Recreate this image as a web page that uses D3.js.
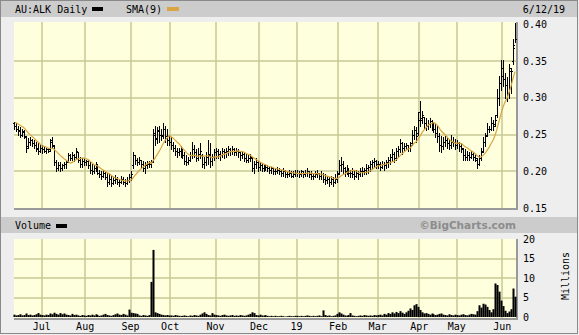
<!DOCTYPE html>
<html><head><meta charset="utf-8">
<script src="https://cdn.jsdelivr.net/npm/d3@7"></script>
<style>
body{margin:0;background:#fff}
svg text{font-family:"DejaVu Sans Mono",monospace;font-size:10px;fill:#000}
</style>
</head><body>
<svg id="chart" width="579" height="335"></svg>
<script>
// month labels and the trading-day index each month starts at
var monthLabels = ["Jul","Aug","Sep","Oct","Nov","Dec","19","Feb","Mar","Apr","May","Jun"];
var monthStart = [14,36,59,79,102,124,143,164,184,205,224,247];
var priceTicks = [0.15,0.20,0.25,0.30,0.35,0.40];
var volTicks = [0,5,10,15,20];

// daily OHLC, AU:ALK, 12 Jun 2018 - 12 Jun 2019
var openP = [.265,.262,.258,.256,.250,.254,.246,.234,.240,.243,
.238,.236,.232,.228,.232,.230,.228,.230,.230,.242,
.234,.212,.205,.208,.204,.208,.210,.214,.222,.218,
.222,.220,.226,.216,.210,.214,.212,.214,.208,.202,
.200,.205,.208,.198,.196,.194,.198,.192,.186,.190,
.184,.188,.190,.186,.186,.190,.186,.184,.188,.192,
.208,.222,.215,.212,.216,.210,.204,.208,.210,.210,
.214,.252,.244,.256,.250,.250,.258,.248,.242,.240,
.236,.232,.228,.226,.228,.224,.222,.214,.212,.216,
.222,.230,.226,.218,.224,.222,.210,.212,.220,.224,
.214,.220,.226,.228,.224,.222,.228,.226,.228,.230,
.228,.230,.226,.228,.226,.222,.224,.218,.216,.218,
.218,.205,.210,.212,.206,.208,.204,.206,.206,.204,
.202,.204,.200,.200,.202,.200,.198,.200,.196,.196,
.198,.194,.196,.198,.198,.196,.200,.196,.198,.200,
.196,.194,.194,.196,.198,.194,.196,.190,.188,.190,
.186,.190,.186,.190,.198,.208,.210,.204,.200,.202,
.198,.198,.196,.194,.198,.196,.200,.200,.202,.204,
.206,.210,.212,.214,.210,.210,.206,.210,.208,.212,
.216,.220,.224,.218,.228,.230,.238,.232,.234,.236,
.232,.238,.250,.256,.252,.280,.270,.274,.266,.262,
.264,.268,.262,.258,.252,.248,.236,.234,.240,.242,
.238,.236,.240,.240,.236,.238,.234,.230,.222,.220,
.222,.220,.224,.220,.216,.210,.218,.228,.240,.250,
.258,.258,.266,.264,.276,.300,.320,.340,.326,.318,
.306,.340,.350,.372];
var highP = [.267,.265,.262,.260,.258,.256,.248,.245,.246,.244,
.243,.240,.238,.236,.236,.234,.232,.232,.244,.246,
.236,.215,.212,.212,.210,.212,.215,.225,.224,.226,
.224,.232,.226,.220,.218,.218,.216,.216,.212,.210,
.208,.212,.210,.202,.200,.202,.200,.198,.196,.194,
.192,.195,.192,.190,.194,.192,.190,.192,.196,.200,
.226,.222,.218,.220,.216,.214,.212,.214,.214,.215,
.258,.262,.260,.262,.258,.266,.262,.258,.250,.246,
.240,.236,.232,.232,.234,.230,.226,.222,.220,.226,
.240,.236,.230,.232,.238,.224,.220,.226,.242,.238,
.224,.230,.232,.230,.228,.232,.230,.232,.234,.232,
.234,.232,.232,.230,.228,.228,.226,.224,.222,.224,
.220,.214,.218,.214,.212,.210,.208,.210,.208,.206,
.206,.205,.204,.206,.204,.202,.204,.202,.200,.202,
.200,.200,.202,.202,.200,.202,.200,.202,.204,.200,
.200,.198,.200,.202,.198,.200,.198,.196,.194,.192,
.194,.192,.196,.200,.216,.220,.214,.206,.208,.204,
.202,.204,.200,.202,.200,.204,.206,.204,.210,.208,
.214,.216,.218,.216,.214,.212,.214,.212,.216,.220,
.224,.230,.226,.232,.234,.244,.240,.238,.238,.236,
.240,.256,.262,.260,.280,.296,.282,.274,.272,.270,
.272,.270,.266,.266,.262,.252,.248,.246,.248,.246,
.244,.250,.246,.244,.242,.240,.238,.232,.230,.228,
.226,.228,.226,.224,.218,.222,.232,.246,.252,.266,
.262,.274,.270,.276,.312,.330,.352,.352,.334,.328,
.346,.340,.380,.402];
var lowP = [.258,.255,.250,.247,.248,.245,.226,.232,.236,.234,
.232,.228,.224,.226,.225,.226,.225,.226,.228,.232,
.208,.200,.202,.200,.202,.204,.205,.212,.215,.216,
.214,.218,.212,.206,.206,.208,.208,.204,.198,.196,
.198,.200,.196,.192,.190,.192,.190,.180,.182,.180,
.182,.184,.182,.180,.184,.182,.180,.182,.185,.188,
.205,.210,.208,.210,.205,.200,.198,.204,.206,.206,
.212,.236,.238,.240,.242,.245,.240,.236,.236,.230,
.228,.222,.220,.222,.220,.218,.210,.208,.210,.214,
.218,.220,.214,.216,.218,.206,.205,.208,.210,.206,
.208,.216,.218,.218,.216,.220,.218,.220,.222,.222,
.224,.222,.222,.220,.216,.218,.214,.212,.212,.214,
.200,.198,.204,.200,.202,.200,.200,.202,.200,.198,
.198,.196,.196,.198,.196,.194,.194,.192,.192,.194,
.192,.192,.194,.194,.192,.194,.192,.194,.194,.192,
.190,.190,.192,.192,.190,.190,.186,.182,.184,.180,
.182,.180,.184,.186,.196,.200,.198,.194,.196,.194,
.192,.192,.190,.192,.190,.194,.194,.196,.196,.198,
.200,.204,.206,.204,.204,.202,.204,.202,.204,.206,
.210,.214,.212,.216,.220,.226,.224,.228,.230,.228,
.228,.236,.244,.240,.250,.262,.266,.258,.256,.258,
.260,.256,.254,.246,.240,.228,.226,.230,.234,.232,
.230,.232,.234,.230,.232,.228,.226,.216,.216,.216,
.216,.218,.216,.214,.204,.208,.216,.226,.234,.248,
.254,.256,.256,.262,.274,.290,.310,.316,.300,.296,
.300,.306,.346,.376];
var closeP = [.262,.258,.255,.250,.255,.248,.232,.240,.242,.238,
.236,.230,.228,.232,.230,.228,.230,.228,.240,.236,
.212,.205,.208,.204,.208,.210,.212,.222,.218,.222,
.220,.228,.215,.210,.214,.212,.214,.208,.202,.200,
.205,.208,.198,.196,.194,.198,.192,.186,.190,.184,
.188,.190,.186,.185,.190,.186,.184,.188,.192,.196,
.222,.215,.212,.216,.210,.204,.208,.210,.212,.212,
.250,.245,.255,.250,.248,.258,.248,.242,.240,.236,
.232,.228,.226,.228,.224,.222,.214,.212,.216,.222,
.230,.226,.218,.224,.228,.210,.212,.220,.222,.214,
.220,.226,.228,.224,.222,.228,.226,.228,.230,.228,
.230,.226,.228,.226,.222,.224,.218,.216,.218,.220,
.205,.210,.212,.206,.208,.204,.206,.206,.204,.202,
.204,.200,.200,.202,.200,.198,.200,.196,.196,.198,
.194,.196,.198,.198,.196,.200,.196,.198,.200,.196,
.194,.194,.196,.198,.194,.196,.190,.188,.190,.186,
.190,.186,.190,.196,.208,.210,.204,.200,.202,.198,
.198,.196,.194,.198,.196,.200,.200,.202,.204,.206,
.210,.212,.214,.210,.210,.206,.210,.208,.212,.216,
.220,.224,.218,.228,.230,.238,.232,.234,.236,.232,
.236,.250,.256,.248,.270,.272,.276,.266,.262,.264,
.268,.262,.258,.252,.248,.236,.234,.240,.242,.238,
.236,.240,.240,.236,.238,.234,.232,.222,.220,.222,
.220,.224,.220,.218,.210,.218,.226,.240,.248,.258,
.258,.266,.262,.270,.300,.320,.330,.326,.318,.306,
.336,.336,.368,.380];
// closes of the 8 sessions before the first bar, for the SMA(9) warm-up
var priorClose = [.270,.268,.266,.270,.268,.265,.266,.264];

// volume, millions of shares
var volume = [0.6,0.4,0.5,0.7,0.4,0.5,0.9,0.5,0.6,0.4,0.5,0.7,1.0,0.6,
0.5,0.4,0.6,0.5,0.9,0.7,1.1,0.8,0.6,1.0,0.7,0.9,0.6,0.5,0.4,0.8,0.5,0.6,0.4,0.3,0.5,0.4,
0.3,0.5,0.4,0.6,0.4,0.7,0.5,0.3,0.4,0.6,0.8,0.5,0.4,0.3,0.5,0.7,0.9,0.6,0.5,0.8,0.6,0.4,1.9,
1.1,1.0,0.9,0.8,0.4,0.3,0.5,0.4,0.3,0.5,9.0,17.2,1.2,1.0,0.8,0.6,0.5,0.4,0.5,0.4,
0.4,0.3,0.5,0.4,0.3,0.2,0.3,0.4,0.3,0.2,0.4,0.3,0.5,0.4,0.3,0.6,0.9,1.2,0.8,0.5,0.4,1.0,0.6,
0.5,0.4,0.3,0.5,0.6,0.4,0.3,0.4,0.5,0.3,0.4,0.3,0.5,0.4,0.3,0.4,0.6,0.8,1.2,1.0,0.5,0.4,
0.6,0.4,0.3,0.5,0.3,0.2,0.3,0.2,0.3,0.2,0.2,0.3,0.2,0.1,0.2,0.3,0.2,0.2,0.3,
0.3,0.2,0.3,0.2,0.3,0.4,0.3,0.2,0.3,0.2,0.3,0.4,0.2,1.7,0.5,0.3,0.4,0.2,0.3,0.4,0.8,
1.2,0.9,0.6,0.4,0.3,0.5,1.0,0.4,0.3,0.2,0.3,0.4,0.3,0.5,0.4,0.3,0.4,0.3,0.5,0.4,
0.5,0.6,0.4,0.8,0.6,1.0,0.8,1.2,0.9,1.3,1.0,1.5,1.1,0.8,1.2,1.6,2.2,1.8,3.0,3.3,2.6,
1.8,1.2,0.9,1.0,0.8,0.6,0.9,0.7,0.5,0.6,0.8,0.9,0.6,0.5,0.4,0.7,0.5,0.4,0.6,
0.5,0.4,0.6,0.7,0.5,0.4,0.6,0.8,0.7,0.6,1.5,3.0,2.4,3.4,3.2,2.6,1.8,1.2,2.0,8.6,8.2,6.5,4.2,
2.8,1.6,1.0,1.4,2.0,7.3,5.2];

var N = closeP.length;
var svg = d3.select("#chart");

var xScale = d3.scaleLinear().domain([0, N]).range([14, 516]);
var yPrice = d3.scaleLinear().domain([0.15, 0.40]).range([208, 24.3]);
var yVol = d3.scaleLinear().domain([0, 20]).range([317, 239]);

// dithered pale yellow plot background
var pat = svg.append("defs").append("pattern").attr("id","dither")
   .attr("width",2).attr("height",2).attr("patternUnits","userSpaceOnUse");
pat.append("rect").attr("width",2).attr("height",2).attr("fill","#ffffcc");
pat.append("rect").attr("width",1).attr("height",1).attr("fill","#fffff0");
pat.append("rect").attr("x",1).attr("y",1).attr("width",1).attr("height",1).attr("fill","#fffff0");

// frame
svg.append("rect").attr("x",0).attr("y",0).attr("width",579).attr("height",335).attr("fill","#eeeeee");
svg.append("rect").attr("x",0.5).attr("y",0.5).attr("width",577).attr("height",333)
   .attr("fill","none").attr("stroke","#8a8a8a");
svg.append("rect").attr("x",1).attr("y",1).attr("width",576).attr("height",16).attr("fill","#cccccc");
svg.append("rect").attr("x",1).attr("y",217).attr("width",576).attr("height",16).attr("fill","#cccccc");

// header texts
svg.append("text").attr("x",15).attr("y",13).text("AU:ALK Daily");
svg.append("rect").attr("x",92).attr("y",7).attr("width",11).attr("height",4).attr("fill","#000");
svg.append("text").attr("x",126).attr("y",13).text("SMA(9)");
svg.append("rect").attr("x",167).attr("y",7).attr("width",12).attr("height",4).attr("fill","#d9a441");
svg.append("text").attr("x",565).attr("y",13).attr("text-anchor","end").text("6/12/19");

svg.append("text").attr("x",15).attr("y",229).text("Volume");
svg.append("rect").attr("x",56).attr("y",224).attr("width",11).attr("height",4).attr("fill","#000");
svg.append("text").attr("x",516).attr("y",229).attr("text-anchor","end")
   .attr("style","font-family:'DejaVu Sans',sans-serif;font-size:10.5px;font-weight:bold;fill:#8c8c8c")
   .text("\u00a9BigCharts.com");

// panels
function panel(y0, y1, hLines, yScale){
  svg.append("rect").attr("x",14).attr("y",y0).attr("width",502).attr("height",y1-y0).attr("fill","url(#dither)");
  var g = svg.append("g").attr("stroke","#c8c894").attr("stroke-width",1.5);
  monthStart.forEach(function(m){
    var x = Math.round(xScale(m));
    g.append("line").attr("x1",x).attr("x2",x).attr("y1",y0).attr("y2",y1);
  });
  hLines.forEach(function(v){
    var y = Math.round(yScale(v));
    g.append("line").attr("x1",14).attr("x2",516).attr("y1",y).attr("y2",y);
  });
  svg.append("rect").attr("x",516).attr("y",y0).attr("width",2).attr("height",y1-y0+2).attr("fill","#9a9a9a");
  svg.append("rect").attr("x",14).attr("y",y1).attr("width",504).attr("height",2).attr("fill","#9a9a9a");
}
panel(22, 208, [0.20,0.25,0.30,0.35], yPrice);
panel(239, 318, [5,10,15], yVol);

// axis labels
priceTicks.forEach(function(p){
  svg.append("text").attr("x",523).attr("y",yPrice(p)+3.5).text(p.toFixed(2));
});
volTicks.forEach(function(v){
  svg.append("text").attr("x",523).attr("y",yVol(v)+3.5).text(v);
});
svg.append("text").attr("transform","translate(569,276) rotate(-90)")
   .attr("text-anchor","middle").text("Millions");
monthLabels.forEach(function(lab, k){
  svg.append("text").attr("x",xScale(monthStart[k])).attr("y",330)
     .attr("text-anchor","middle").text(lab);
});

// OHLC bars
var bars = svg.append("g").attr("fill","#000");
for(var i=0; i<N; i++){
  var xc = Math.floor(xScale(i+0.5));
  var yh = Math.round(yPrice(highP[i])), yl = Math.round(yPrice(lowP[i]));
  bars.append("rect").attr("x",xc).attr("y",yh).attr("width",1).attr("height",Math.max(1,yl-yh+1));
  bars.append("rect").attr("x",xc-1).attr("y",Math.round(yPrice(openP[i]))).attr("width",1).attr("height",1);
  bars.append("rect").attr("x",xc+1).attr("y",Math.round(yPrice(closeP[i]))).attr("width",1).attr("height",1);
}

// SMA(9)
var allClose = priorClose.concat(closeP);
var sma = [];
for(var i=0; i<N; i++){
  sma.push(d3.mean(allClose.slice(i, i+9)));
}
svg.append("path").datum(sma)
   .attr("fill","none").attr("stroke","#d9a441").attr("stroke-width",1.2)
   .attr("d", d3.line().x(function(d,i){ return xScale(i+0.5); }).y(function(d){ return yPrice(d); }));

// volume
var vg = svg.append("g").attr("fill","#000");
volume.forEach(function(v, i){
  var x0 = Math.floor(xScale(i+0.5));
  var yv = yVol(v);
  vg.append("rect").attr("x",x0-0.5).attr("y",yv).attr("width",2).attr("height",yVol(0)-yv);
});
</script>
</body></html>
